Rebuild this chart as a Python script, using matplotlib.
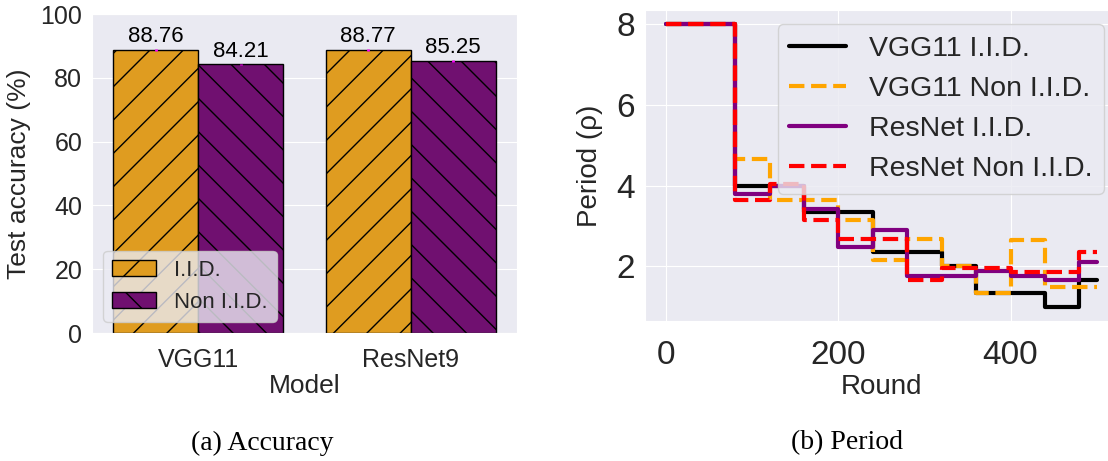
import numpy as np
import matplotlib
matplotlib.use("Agg")
import matplotlib.pyplot as plt
import seaborn as sns

sns.set_style("darkgrid")
plt.rcParams['font.family'] = ['Liberation Sans', 'DejaVu Sans']

# accuracy bars
models = ["VGG11", "ResNet9"]
acc_iid = [88.76, 88.77]
acc_non = [84.21, 85.25]

# period per round (step changes)
rounds = [0, 80, 120, 160, 200, 240, 280, 320, 360, 400, 440, 480, 500]
vgg_iid = [8, 4.0, 4.0, 3.35, 3.35, 2.35, 2.35, 2.0, 1.35, 1.35, 1.0, 1.67, 1.67]
vgg_non = [8, 4.65, 3.65, 3.65, 3.16, 2.17, 2.67, 2.0, 1.35, 2.66, 1.5, 1.5, 1.5]
res_iid = [8, 3.79, 4.0, 3.43, 2.47, 2.9, 1.77, 1.77, 1.9, 1.77, 1.67, 2.12, 2.12]
res_non = [8, 3.65, 4.03, 3.16, 2.67, 2.67, 1.67, 1.95, 1.95, 1.86, 1.86, 2.35, 2.35]

W, H = 1108, 461
fig = plt.figure(figsize=(W / 100, H / 100), dpi=100)

#%% (a) accuracy
ax1 = fig.add_axes([92 / W, 1 - 333 / H, 425 / W, 319 / H])
orange = "#df9c20"
purple = "#701070"
x = np.arange(len(models))
bw = 0.4
b1 = ax1.bar(x - bw / 2, acc_iid, bw, color=orange, edgecolor="black", hatch="/", linewidth=1, label="I.I.D.")
b2 = ax1.bar(x + bw / 2, acc_non, bw, color=purple, edgecolor="black", hatch="\\", linewidth=1, label="Non I.I.D.")
ax1.errorbar(x - bw / 2, acc_iid, yerr=0.25, fmt="none", ecolor="#ff00ff", lw=2)
ax1.errorbar(x + bw / 2, acc_non, yerr=0.25, fmt="none", ecolor="#ff00ff", lw=2)
ax1.bar_label(b1, fmt="%.2f", padding=2, fontsize=16, color="black")
ax1.bar_label(b2, fmt="%.2f", padding=2, fontsize=16, color="black")
ax1.set_xlim(-0.5, 1.5)
ax1.set_ylim(0, 100)
ax1.set_xticks(x)
ax1.set_xticklabels(models)
ax1.tick_params(axis="both", labelsize=18)
ax1.tick_params(axis="x", pad=7)
ax1.set_xlabel("Model", fontsize=19, labelpad=2)
ax1.set_ylabel("Test accuracy (%)", fontsize=19)
ax1.yaxis.set_label_coords(-0.144, 0.5)
ax1.grid(axis="x", visible=False)
ax1.legend(loc="lower left", fontsize=16)

#%% (b) period
ax2 = fig.add_axes([645 / W, 1 - 321 / H, 473 / W, 311 / H])
ax2.step(rounds, vgg_iid, where="post", color="black", lw=3, label="VGG11 I.I.D.")
ax2.step(rounds, vgg_non, where="post", color="orange", lw=3, ls="--", label="VGG11 Non I.I.D.")
ax2.step(rounds, res_iid, where="post", color="purple", lw=3, label="ResNet I.I.D.")
ax2.step(rounds, res_non, where="post", color="red", lw=3, ls="--", label="ResNet Non I.I.D.")
ax2.set_xlim(-25, 525)
ax2.set_ylim(0.65, 8.35)
ax2.set_xticks([0, 200, 400])
ax2.set_yticks([2, 4, 6, 8])
ax2.tick_params(axis="both", labelsize=24)
ax2.tick_params(axis="x", pad=10)
ax2.set_xlabel("Round", fontsize=20, labelpad=2)
ax2.set_ylabel("Period (ρ)", fontsize=20)
ax2.yaxis.set_label_coords(-0.089, 0.5)
ax2.legend(loc="upper right", fontsize=20.5)

fig.text(262 / W, 1 - 443 / H, "(a) Accuracy", ha="center", va="center",
         family="Liberation Serif", fontsize=20, color="black")
fig.text(847 / W, 1 - 443 / H, "(b) Period", ha="center", va="center",
         family="Liberation Serif", fontsize=20, color="black")

fig.savefig("out.png", dpi=100)
